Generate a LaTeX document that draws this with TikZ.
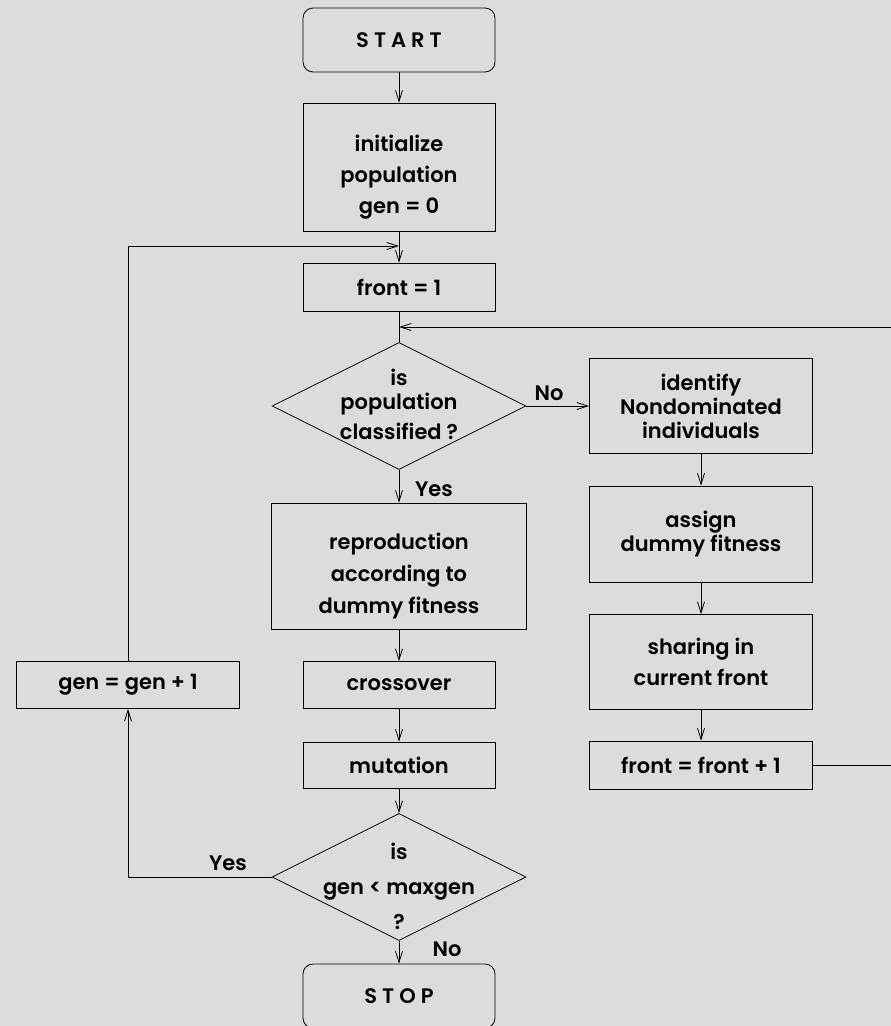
\documentclass[tikz,border=0pt]{standalone}
\usepackage{fontspec}
\newfontfamily\chartfont{Poppins SemiBold}
\usetikzlibrary{shapes.geometric,arrows.meta}
\definecolor{paper}{RGB}{220,220,220}
\newcommand{\chartsize}[1]{\chartfont\fontsize{21}{#1}\selectfont}
\newcommand{\lift}{\rule{0pt}{36pt}}
\tikzset{
  box/.style={draw,rectangle,inner sep=0pt,align=center,line width=0.8pt,font=\chartsize{31}},
  tightbox/.style={box,font=\chartsize{24}},
  term/.style={box,rounded corners=10pt,minimum width=192pt,minimum height=64pt},
  decision/.style={draw,diamond,inner sep=0pt,line width=0.8pt,minimum width=254pt,minimum height=127pt},
  txt/.style={align=center,inner sep=0pt},
  lbl/.style={inner sep=0pt,font=\chartsize{24}},
  flow/.style={line width=0.8pt},
  arr/.style={flow,-{Straight Barb[length=11pt,width=7pt]}}
}
\begin{document}
\begin{tikzpicture}[x=1pt,y=-1pt]
\useasboundingbox (0,0) rectangle (891,1026);
\clip (0,0) rectangle (891,1026);
\fill[paper] (0,0) rectangle (891,1026);
% main column
\node[term] (start) at (399,40) {S T A R T};
\node[box,minimum width=192pt,minimum height=128pt] (init) at (399,167) {\lift initialize\\population\\gen = 0};
\node[box,minimum width=192pt,minimum height=48pt] (front) at (399,287) {front = 1};
\node[decision] (classified) at (399,406) {};
\node[txt,font=\chartsize{24}] (classifiedtext) at (399,404) {is\\population\\[6pt]classified ?};
\node[box,font=\chartsize{32},minimum width=255pt,minimum height=126pt] (repro) at (399,566) {\lift reproduction\\according to\\dummy fitness};
\node[box,minimum width=192pt,minimum height=47pt] (cross) at (399,685) {crossover};
\node[box,minimum width=192pt,minimum height=46pt] (mutate) at (399,765) {mutation};
\node[decision] (maxgen) at (399,877) {};
\node[txt,font=\chartsize{35}] (maxgentext) at (399,886) {is\\gen < maxgen\\?};
\node[term] (stop) at (399,996) {S T O P};
% right column
\node[tightbox,minimum width=223pt,minimum height=95pt] (ident) at (701,406) {identify\\Nondominated\\individuals};
\node[tightbox,minimum width=223pt,minimum height=96pt] (assign) at (701,534) {assign\\dummy fitness};
\node[box,minimum width=223pt,minimum height=95pt] (share) at (701,662) {sharing in\\current front};
\node[box,minimum width=223pt,minimum height=48pt] (nextfront) at (701,765) {front = front + 1};
% left column
\node[box,minimum width=223pt,minimum height=47pt] (incr) at (128,685) {gen = gen + 1};
% labels
\node[lbl] (no1) at (549,393) {No};
\node[lbl] (yes1) at (434,489) {Yes};
\node[lbl] (yes2) at (228,863) {Yes};
\node[lbl] (no2) at (447,949) {No};
\coordinate (loopin) at (399,246);
\coordinate (frontin) at (399,327);
\coordinate (farright) at (930,765);
% connectors
\draw[arr] (start) -- (init);
\draw[arr] (init) -- (front);
\draw[flow] (front) -- (classified);
\draw[arr] (classified) -- (ident);
\draw[arr] (classified) -- (repro);
\draw[arr] (ident) -- (assign);
\draw[arr] (assign) -- (share);
\draw[arr] (share) -- (nextfront);
\draw[arr] (nextfront.east) -- (farright) |- (frontin);
\draw[arr] (repro) -- (cross);
\draw[arr] (cross) -- (mutate);
\draw[arr] (mutate) -- (maxgen);
\draw[arr] (maxgen) -- (stop);
\draw[arr] (maxgen.west) -| (incr.south);
\draw[arr] (incr.north) |- (loopin);
\end{tikzpicture}
\end{document}
